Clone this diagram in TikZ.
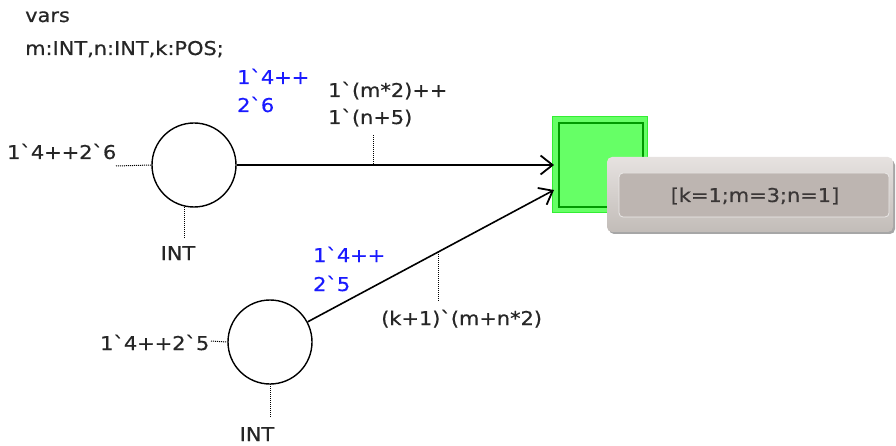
\documentclass[tikz,border=0pt]{standalone}
\usepackage{fontspec}
\newfontfamily\cpnfont{DejaVu Sans}[FakeStretch=1.1,FakeBold=0.6]
\usetikzlibrary{arrows.meta}
\definecolor{tgreen}{HTML}{66FF66}
\definecolor{tgreenb}{HTML}{33EE33}
\definecolor{tgreend}{HTML}{009A00}
\definecolor{mblue}{HTML}{1A1AFF}
\definecolor{tiptop}{HTML}{E6E2E0}
\definecolor{tipbot}{HTML}{C2BCB8}
\definecolor{tipin}{HTML}{BDB5B1}
\definecolor{tiptext}{HTML}{3A3636}
\tikzset{
  place/.style={circle, draw=black, line width=1.4pt, minimum size=84pt, inner sep=0pt},
  txt/.style={inner sep=0pt, font=\cpnfont\fontsize{19pt}{22pt}\selectfont, text=black!85},
  marktxt/.style={txt, text=mblue},
  dotline/.style={densely dotted, line width=1pt},
  arcline/.style={line width=1.6pt, -{Straight Barb[length=12pt,width=19pt,line width=1.8pt]}}
}
\begin{document}
\begin{tikzpicture}[x=1pt,y=-1pt]
\useasboundingbox (0,0) rectangle (896,446);
% declarations
\node[txt, anchor=base west] (vars) at (25,22) {vars};
\node[txt, anchor=base west] (decl) at (25,55) {m:INT,n:INT,k:POS;};
% places
\node[place] (p1) at (194,165) {};
\node[place] (p2) at (270,342) {};
% transition
\node[draw=tgreenb, fill=tgreen, line width=1.5pt, minimum width=95pt, minimum height=96pt, inner sep=0pt] (t) at (600,164.5) {};
\draw[tgreend, line width=1.6pt] (559,123) rectangle (643,207);
\coordinate (t1) at (554,165);
\coordinate (t2) at (554,190);
% arcs
\draw[arcline] (p1.east) -- (t1);
\draw[arcline] (p2) -- (t2);
% place 1 inscriptions
\node[txt, anchor=base west] (im1) at (7,159) {1`4++2`6};
\draw[dotline] (116,166) -- (p1.west);
\node[txt, anchor=base] (ty1) at (178,260) {INT};
\draw[dotline] (184,207) -- (184,238);
\node[marktxt, anchor=base west] (cm1a) at (237,84) {1`4++};
\node[marktxt, anchor=base west] (cm1b) at (237,112) {2`6};
% place 2 inscriptions
\node[txt, anchor=base west] (im2) at (100,350) {1`4++2`5};
\draw[dotline] (211,341) -- (p2.west);
\node[txt, anchor=base] (ty2) at (257,441) {INT};
\draw[dotline] (270,384) -- (270,418);
\node[marktxt, anchor=base west] (cm2a) at (313,262) {1`4++};
\node[marktxt, anchor=base west] (cm2b) at (313,291) {2`5};
% arc inscriptions
\node[txt, anchor=base west] (a1a) at (328,97) {1`(m*2)++};
\node[txt, anchor=base west] (a1b) at (328,124) {1`(n+5)};
\draw[dotline] (373,135) -- (373,165);
\node[txt, anchor=base west] (a2) at (381,325) {(k+1)`(m+n*2)};
\draw[dotline] (438,252) -- (438,302);
% tooltip
\fill[black!35, rounded corners=5pt] (609,160) rectangle (895,234);
\shade[top color=tiptop, bottom color=tipbot, rounded corners=5pt] (607,157) rectangle (893,232);
\draw[white!70!tipin, line width=0.8pt, fill=tipin, rounded corners=4pt] (619,173) rectangle (889,217);
\node[txt, text=tiptext] (bind) at (755,196) {[k=1;m=3;n=1]};
\end{tikzpicture}
\end{document}
